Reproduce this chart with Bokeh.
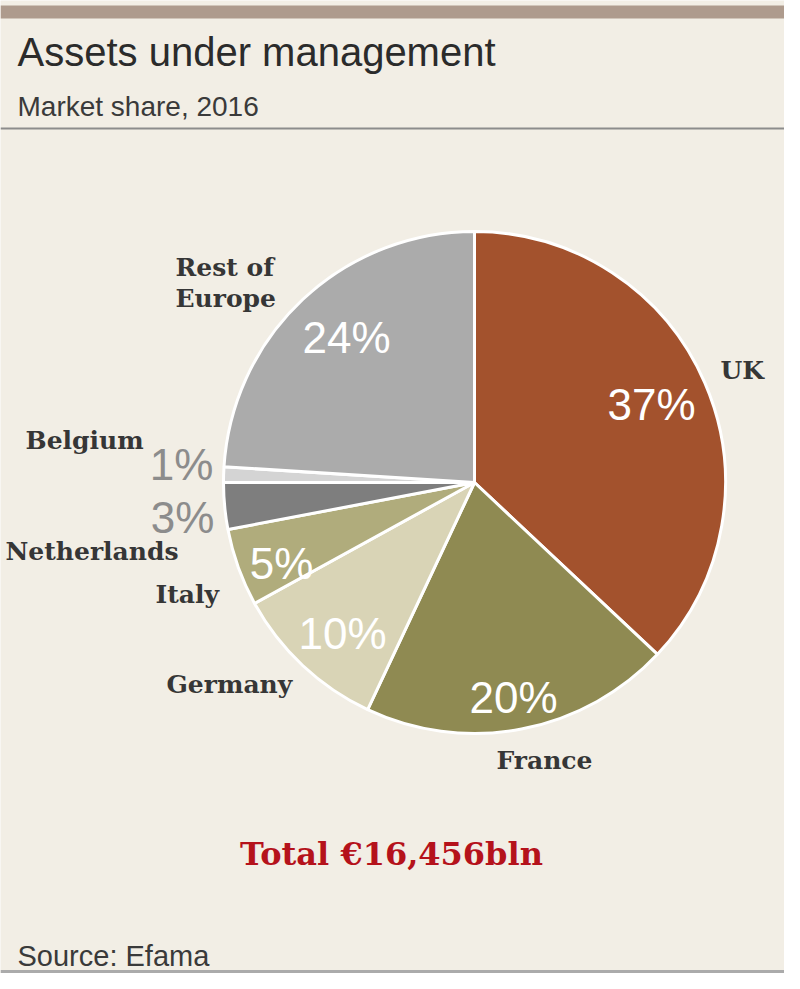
import math
from bokeh.plotting import figure
from bokeh.models import Range1d
from bokeh.core.properties import value
from bokeh.embed import file_html
from bokeh.resources import INLINE

# ---- data ----
countries = ["UK", "France", "Germany", "Italy", "Netherlands", "Belgium", "Rest of Europe"]
shares = [37, 20, 10, 5, 3, 1, 24]
pct_labels = ["37%", "20%", "10%", "5%", "3%", "1%", "24%"]
colors = ["#A3522D", "#8F8A52", "#D9D4B6", "#B0AC7C", "#7E7E7E", "#D4D4D4", "#ABABAB"]
title = "Assets under management"
subtitle = "Market share, 2016"
total_text = "Total €16,456bln"
source = "Source: Efama"

W, H = 784, 973
BG = "#F2EEE5"

def Y(y):  # reference-pixel y -> data y
    return 989 - y

p = figure(width=W, height=H, output_backend="svg", toolbar_location=None,
           x_range=Range1d(0, W), y_range=Range1d(Y(H), Y(0)),
           min_border=0, background_fill_color=BG, border_fill_color=BG)
p.axis.visible = False
p.grid.visible = False
p.outline_line_color = None

# header bar and rules
p.quad(left=[0], right=[800], top=[Y(5)], bottom=[Y(18)], fill_color="#AE9B8D", line_color=None)
p.segment(x0=[0], x1=[800], y0=[Y(128)], y1=[Y(128)], line_color="#8C8C8C", line_width=2)
p.segment(x0=[0], x1=[800], y0=[Y(971)], y1=[Y(971)], line_color="#ABABAB", line_width=3)

SANS = value("Liberation Sans")
SERIF = value("DejaVu Serif")

p.text(x=[17], y=[Y(51)], text=[title], text_font=SANS, text_font_size="40px",
       text_color="#2B2B2B", text_baseline="middle")
p.text(x=[17], y=[Y(106)], text=[subtitle], text_font=SANS, text_font_size="28px",
       text_color="#3A3A3A", text_baseline="middle")
p.text(x=[17], y=[Y(955)], text=[source], text_font=SANS, text_font_size="29px",
       text_color="#3A3A3A", text_baseline="middle")

# pie
cx, cy, r = 474, Y(482), 251
total = sum(shares)
starts, ends = [], []
acc = 0
for s in shares:
    a0 = math.pi / 2 - 2 * math.pi * acc / total
    acc += s
    a1 = math.pi / 2 - 2 * math.pi * acc / total
    starts.append(a0)
    ends.append(a1)
p.wedge(x=[cx] * len(shares), y=[cy] * len(shares), radius=r,
        start_angle=starts, end_angle=ends, direction="clock",
        fill_color=colors, line_color="white", line_width=3)

# percentage labels (layout positions in reference pixels)
pct_pos = [(651, 404), (513, 697), (342, 633), (281, 563), (182, 517), (181, 464), (346, 337)]
pct_colors = ["white", "white", "white", "white", "#8C8C8C", "#8C8C8C", "white"]
for (px, py), t, c in zip(pct_pos, pct_labels, pct_colors):
    p.text(x=[px], y=[Y(py)], text=[t], text_font=SANS, text_font_size="44px",
           text_color=c, text_align="center", text_baseline="middle")

# category labels
name_pos = [(720, 370, "left"), (496, 760, "left"), (166, 684, "left"), (155, 594, "left"),
            (5, 551, "left"), (25, 440, "left"), (175, 267, "left")]
name_text = ["UK", "France", "Germany", "Italy", "Netherlands", "Belgium", "Rest of\nEurope"]
for (nx, ny, al), t in zip(name_pos, name_text):
    lines = t.split("\n")
    for i, ln in enumerate(lines):
        p.text(x=[nx], y=[Y(ny + i * 31)], text=[ln], text_font=SERIF, text_font_size="25px",
               text_font_style="bold", text_color="#363636", text_align=al,
               text_baseline="middle")

p.text(x=[391], y=[Y(853)], text=[total_text], text_font=SERIF, text_font_size="32px",
       text_font_style="bold", text_color="#B5121B", text_align="center", text_baseline="middle")

open("out.html", "w").write(file_html(p, INLINE))
